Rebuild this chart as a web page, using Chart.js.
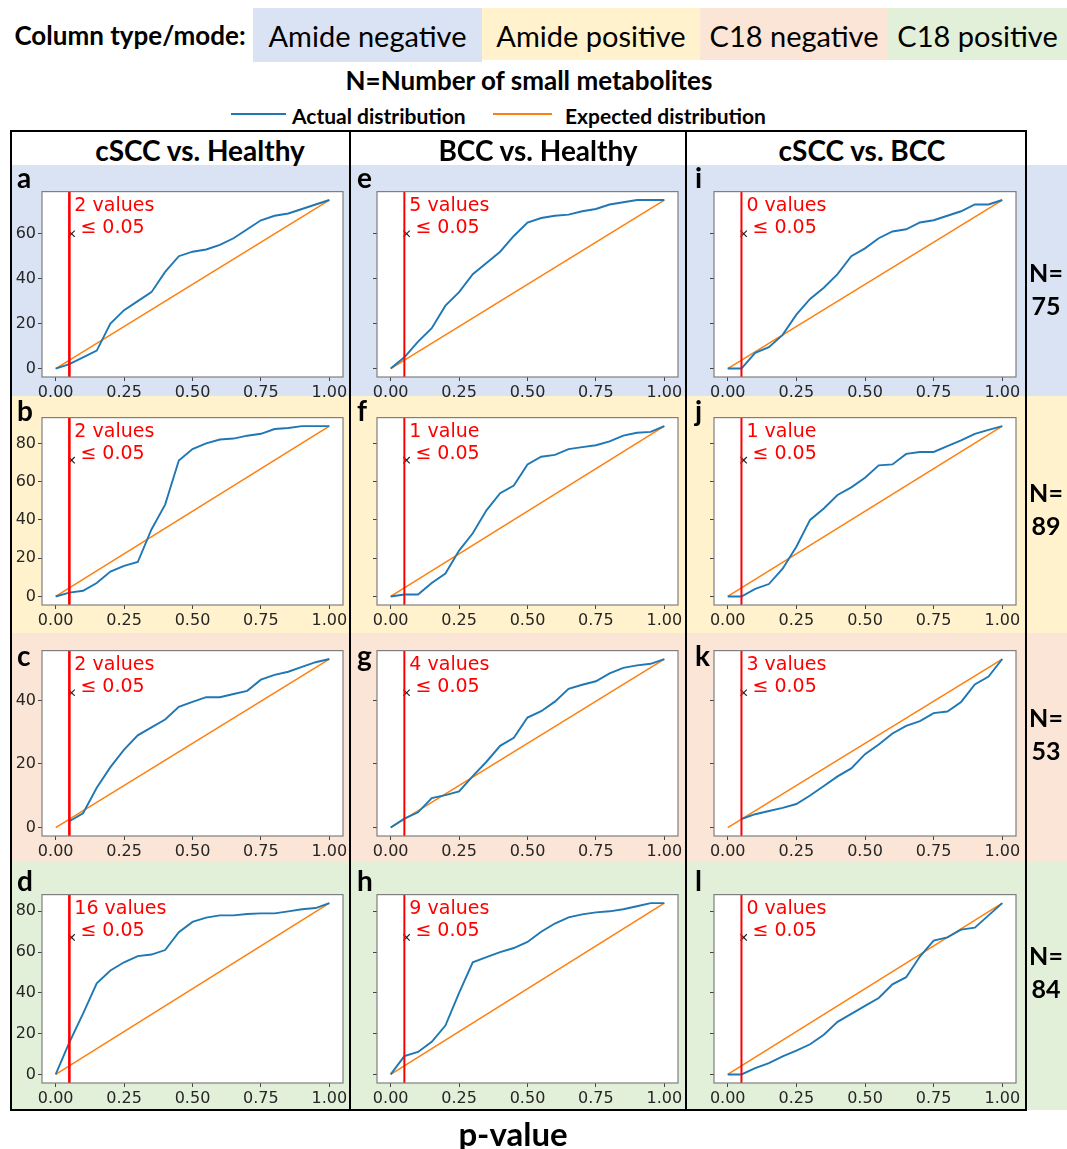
<!DOCTYPE html>
<html>
<head>
<meta charset="utf-8">
<script src="https://cdn.jsdelivr.net/npm/chart.js@4.4.1/dist/chart.umd.min.js"></script>
<style>
body { margin: 0; background: #fff; }
#page { position: relative; width: 1067px; height: 1149px; overflow: hidden; font-family: Lato, "Open Sans", sans-serif; color: #000; }
.box { position: absolute; }
.txt { position: absolute; white-space: nowrap; line-height: 1; transform: translate(-50%, -50%); }
.ltxt { position: absolute; white-space: nowrap; line-height: 1; transform: translate(0, -50%); }
canvas { position: absolute; z-index: 1; }
</style>
</head>
<body>
<div id="page"></div>
<script>
// values
const p_grid = [0, 0.05, 0.1, 0.15, 0.2, 0.25, 0.3, 0.35, 0.4, 0.45, 0.5, 0.55, 0.6, 0.65, 0.7, 0.75, 0.8, 0.85, 0.9, 0.95, 1];
const x_ticks = [0, 0.25, 0.5, 0.75, 1];
const y_ticks = [0, 20, 40, 60, 80];

const mode_names = ['Amide negative', 'Amide positive', 'C18 negative', 'C18 positive'];
const mode_colors = ['#dae3f3', '#fff2cc', '#fbe5d6', '#e2f0d9'];
const comparisons = ['cSCC vs. Healthy', 'BCC vs. Healthy', 'cSCC vs. BCC'];
const row_n = [75, 89, 53, 84];
const panel_letters = [['a', 'e', 'i'], ['b', 'f', 'j'], ['c', 'g', 'k'], ['d', 'h', 'l']];
const values_below = [[2, 5, 0], [2, 1, 1], [2, 4, 3], [16, 9, 0]];

const actual_a = [0, 2, 5, 8, 20, 26, 30, 34, 43, 50, 52, 53, 55, 58, 62, 66, 68, 69, 71, 73, 75];
const actual_e = [0, 5, 12, 18, 28, 34, 42, 47, 52, 59, 65, 67, 68, 68.5, 70, 71, 73, 74, 75, 75, 75];
const actual_i = [0, 0, 7, 9.5, 15, 24, 31, 36, 42, 50, 53.5, 58, 61, 62, 65, 66, 68, 70, 73, 73, 75];
const actual_b = [0, 2, 3, 7, 13, 16, 18, 35, 48, 71, 77, 80, 82, 82.5, 84, 85, 87.5, 88, 89, 89, 89];
const actual_f = [0, 1, 1, 7, 12, 24, 33, 45, 54, 58, 69, 73, 74, 77, 78, 79, 81, 84, 85.5, 86, 89];
const actual_j = [0, 0, 4, 6.5, 14.5, 26, 40, 46, 53, 57, 62, 68.5, 69, 74.5, 75.5, 75.5, 78.5, 81.5, 85, 87, 89];
const actual_c = [null, 2, 4.5, 12.5, 19, 24.5, 29, 31.5, 34, 38, 39.5, 41, 41, 42, 43, 46.5, 48, 49, 50.5, 52, 53];
const actual_g = [0, 2.8, 4.8, 9.3, 10.2, 11.4, 16.2, 20.7, 25.7, 28.2, 34.6, 36.6, 39.6, 43.6, 44.9, 46, 48.5, 50.2, 51, 51.5, 53];
const actual_k = [null, 2.7, 4.2, 5.2, 6.2, 7.4, 10.1, 13.1, 16.1, 18.6, 23.1, 26.1, 29.6, 32, 33.5, 36, 36.5, 39.5, 45, 47.5, 53];
const actual_d = [0, 15.7, 29.8, 44.7, 51, 55, 58, 58.8, 61, 69.8, 74.8, 76.9, 78, 78, 78.7, 79, 79, 80, 81, 81.6, 84];
const actual_h = [0, 9, 11, 16, 24, 40, 55, 57.5, 60, 62, 65, 70, 74, 77, 78.5, 79.5, 80, 81, 82.5, 84, 84];
const actual_l = [0, 0, 3.1, 5.5, 8.9, 11.7, 14.8, 19.5, 25.8, 29.7, 33.6, 37.5, 44.2, 47.7, 57.8, 65.6, 67.2, 71, 72, 78, 84];

const actual_by_panel = [
    [actual_a, actual_e, actual_i],
    [actual_b, actual_f, actual_j],
    [actual_c, actual_g, actual_k],
    [actual_d, actual_h, actual_l]
];

// page geometry
const col_left = [42, 377, 714];
const col_right = [343, 678, 1016];
const row_top = [184, 410, 643, 887];
const row_bottom = [377, 605, 836, 1083];
const band_top = [165, 396, 633, 862];
const band_bottom = [396, 633, 862, 1110];
const n_label_y = [272, 492, 717, 955];

const page = document.getElementById('page');

function add_box(x, y, w, h, color, z) {
    const el = document.createElement('div');
    el.className = 'box';
    el.style.cssText = `left:${x}px;top:${y}px;width:${w}px;height:${h}px;background:${color};z-index:${z || 0}`;
    page.appendChild(el);
    return el;
}

function add_text(text, x, y, size, weight, cls) {
    const el = document.createElement('div');
    el.className = cls || 'txt';
    el.textContent = text;
    el.style.cssText = `left:${x}px;top:${y}px;font-size:${size}px;font-weight:${weight};z-index:3`;
    page.appendChild(el);
    return el;
}

// header
add_text('Column type/mode:', 130, 35, 26, 'bold');
const mode_boxes = [[253, 229], [482, 218], [700, 188], [888, 179]];
mode_boxes.forEach(([x, w], i) => {
    add_box(x, 8, w, i == 0 ? 54 : 52, mode_colors[i]);
    add_text(mode_names[i], x + w / 2, 35, 29, 'normal');
});
add_text('N=Number of small metabolites', 529, 80, 26, 'bold');
add_box(231, 113, 55, 2, '#1f77b4', 2);
add_text('Actual distribution', 292, 115, 21, 'bold', 'ltxt');
add_box(493, 113, 59, 2, '#ff7f0e', 2);
add_text('Expected distribution', 565, 115, 21, 'bold', 'ltxt');

// row bands and table
for (let r = 0; r < 4; r++) {
    add_box(12, band_top[r], 1067 - 12, band_bottom[r] - band_top[r], mode_colors[r]);
    add_text('N=', 1046, n_label_y[r], 25, 'bold');
    add_text(String(row_n[r]), 1046, n_label_y[r] + 33, 25, 'bold');
}
add_box(10, 130, 1017, 2, '#000', 2);
add_box(10, 1109, 1017, 2, '#000', 2);
[10, 349, 685, 1025].forEach(x => add_box(x, 130, 2, 981, '#000', 2));
[200, 538, 862].forEach((x, i) => add_text(comparisons[i], x, 150, 28, 'bold'));
add_text('p-value', 513, 1133, 33, 'bold');

const letter_x = [17, 357, 695];
const letter_y = [177, 410, 655, 880];

const panel_plugin = {
    id: 'panel_extras',
    beforeDraw(chart) {
        const a = chart.chartArea;
        const ctx = chart.ctx;
        ctx.save();
        ctx.fillStyle = '#ffffff';
        ctx.fillRect(a.left, a.top, a.right - a.left, a.bottom - a.top);
        ctx.restore();
    },
    afterDatasetsDraw(chart, args, opts) {
        const a = chart.chartArea;
        const ctx = chart.ctx;
        const x = chart.scales.x.getPixelForValue(0.05);
        ctx.save();
        ctx.strokeStyle = '#ff0000';
        ctx.lineWidth = opts.line_width;
        ctx.beginPath();
        ctx.moveTo(x, a.top);
        ctx.lineTo(x, a.bottom);
        ctx.stroke();
        ctx.fillStyle = '#ff0000';
        ctx.font = '19px "DejaVu Sans"';
        ctx.textBaseline = 'alphabetic';
        ctx.fillText(opts.count == 1 ? '1 value' : opts.count + ' values', x + 5, a.top + 19);
        ctx.fillText(' \u2264 0.05', x + 5, a.top + 41);
        ctx.restore();
    },
    afterDraw(chart) {
        const a = chart.chartArea;
        const ctx = chart.ctx;
        ctx.save();
        ctx.strokeStyle = '#7f7f7f';
        ctx.lineWidth = 1.2;
        ctx.strokeRect(a.left, a.top, a.right - a.left, a.bottom - a.top);
        ctx.restore();
    }
};

function make_panel(r, c) {
    const n = row_n[r];
    const actual = actual_by_panel[r][c];
    const y_axis_w = 36, x_axis_h = 26, pad_top = 4, pad_right = 10;
    const canvas = document.createElement('canvas');
    const w = col_right[c] - col_left[c] + y_axis_w + pad_right;
    const h = row_bottom[r] - row_top[r] + pad_top + x_axis_h;
    canvas.width = w;
    canvas.height = h;
    canvas.style.left = (col_left[c] - y_axis_w) + 'px';
    canvas.style.top = (row_top[r] - pad_top) + 'px';
    canvas.style.width = w + 'px';
    canvas.style.height = h + 'px';
    page.appendChild(canvas);

    const actual_points = [];
    p_grid.forEach((p, i) => {
        if (actual[i] != null) actual_points.push({ x: p, y: actual[i] });
    });
    const tick_font = { family: 'DejaVu Sans', size: 16 };

    new Chart(canvas.getContext('2d'), {
        type: 'scatter',
        data: {
            datasets: [
                {
                    label: 'Actual distribution',
                    data: actual_points,
                    showLine: true,
                    borderColor: '#1f77b4',
                    borderWidth: 1.9,
                    pointRadius: 0,
                    order: 0
                },
                {
                    label: 'Expected distribution',
                    data: [{ x: 0, y: 0 }, { x: 1, y: n }],
                    showLine: true,
                    borderColor: '#ff7f0e',
                    borderWidth: 1.5,
                    pointRadius: 0,
                    order: 1
                },
                {
                    label: 'marker',
                    data: [{ x: 0.058, y: 0.8 * n }],
                    pointStyle: 'crossRot',
                    pointRadius: 4.5,
                    borderColor: '#222',
                    borderWidth: 1.2,
                    order: 0
                }
            ]
        },
        options: {
            responsive: false,
            animation: false,
            devicePixelRatio: 1,
            events: [],
            layout: { padding: { left: 0, top: pad_top, right: pad_right, bottom: 0 } },
            plugins: {
                legend: { display: false },
                tooltip: { enabled: false },
                panel_extras: { count: values_below[r][c], line_width: c == 0 ? 2.6 : 2 }
            },
            scales: {
                x: {
                    type: 'linear',
                    min: -0.05,
                    max: 1.05,
                    afterBuildTicks: (scale) => { scale.ticks = x_ticks.map(v => ({ value: v })); },
                    afterFit: (scale) => { scale.height = x_axis_h; },
                    ticks: { font: tick_font, color: '#262626', padding: 2, maxRotation: 0, autoSkip: false, callback: (v) => v.toFixed(2) },
                    grid: { drawOnChartArea: false, tickLength: 4, color: '#444' },
                    border: { display: false }
                },
                y: {
                    type: 'linear',
                    min: -0.05 * n,
                    max: 1.05 * n,
                    afterBuildTicks: (scale) => { scale.ticks = y_ticks.filter(v => v <= n).map(v => ({ value: v })); },
                    afterFit: (scale) => { scale.width = y_axis_w; },
                    ticks: { font: tick_font, color: '#262626', padding: 2, callback: (v) => c == 0 ? String(v) : '' },
                    grid: { drawOnChartArea: false, tickLength: 4, color: '#444' },
                    border: { display: false }
                }
            }
        },
        plugins: [panel_plugin]
    });

    add_text(panel_letters[r][c], letter_x[c], letter_y[r], 28, 'bold', 'ltxt');
}

for (let r = 0; r < 4; r++) {
    for (let c = 0; c < 3; c++) {
        make_panel(r, c);
    }
}
</script>
</body>
</html>
